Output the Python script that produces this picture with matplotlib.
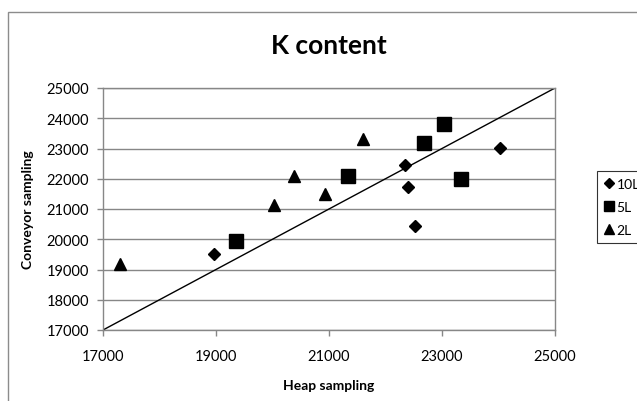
#!/usr/bin/env python3
"""K content: conveyor sampling vs heap sampling for 10L, 5L and 2L samples."""

import matplotlib
matplotlib.use("Agg")
import matplotlib.pyplot as plt
from matplotlib.patches import Rectangle

# Heap sampling (x) and conveyor sampling (y) per sample size
heap_10l = [18970, 22340, 22400, 22520, 24020]
conv_10l = [19510, 22460, 21720, 20450, 23010]

heap_5l = [19360, 21330, 22690, 23040, 23340]
conv_5l = [19930, 22090, 23190, 23800, 22000]

heap_2l = [17300, 20030, 20380, 20930, 21610]
conv_2l = [19180, 21120, 22080, 21500, 23320]

# 1:1 reference line
line_ends = [17000, 25000]

axis_ticks = [17000, 19000, 21000, 23000, 25000]
y_ticks = [17000, 18000, 19000, 20000, 21000, 22000, 23000, 24000, 25000]

plt.rcParams['font.family'] = ['Lato', 'DejaVu Sans']

grey = '#878787'

fig = plt.figure(figsize=(6.37, 4.02), dpi=100)
ax = fig.add_axes([103 / 637, 1 - 331 / 402, 452 / 637, 242 / 402])

ax.plot(line_ends, line_ends, color='black', lw=1.0, zorder=2)

ax.plot(heap_10l, conv_10l, linestyle='none', marker='D', ms=6.0,
        color='black', label='10L', zorder=3)
ax.plot(heap_5l, conv_5l, linestyle='none', marker='s', ms=9.5,
        color='black', label='5L', zorder=3)
ax.plot(heap_2l, conv_2l, linestyle='none', marker='^', ms=9.0,
        color='black', label='2L', zorder=3)

ax.set_xlim(17000, 25000)
ax.set_ylim(17000, 25000)
ax.set_xticks(axis_ticks)
ax.set_yticks(y_ticks)
ax.yaxis.grid(True, color=grey, lw=1.0)
ax.set_axisbelow(True)

for side in ax.spines.values():
    side.set_color(grey)
    side.set_linewidth(1.0)

ax.tick_params(axis='both', direction='out', length=4, width=1, color=grey,
               labelsize=10.5, labelcolor='black')
ax.tick_params(axis='x', pad=10)
ax.tick_params(axis='y', pad=6)

ax.set_title('K content', fontsize=19, fontweight='bold', pad=25)
ax.set_xlabel('Heap sampling', fontsize=10, fontweight='bold', labelpad=11)
ax.set_ylabel('Conveyor sampling', fontsize=10, fontweight='bold', labelpad=9)

leg = fig.legend(loc='upper left', bbox_to_anchor=(597 / 637, 1 - 172 / 402),
                 bbox_transform=fig.transFigure, fontsize=10, frameon=True,
                 fancybox=False, edgecolor='black', handlelength=0.7,
                 handletextpad=0.2, borderpad=0.5, labelspacing=0.8,
                 borderaxespad=0)
leg.get_frame().set_linewidth(0.8)
for h in leg.legend_handles:
    h.set_markersize(h.get_markersize() * 0.8)

# outer chart border, runs off the right and bottom edge
fig.add_artist(Rectangle((8 / 637, -0.2), 1.5, 1.2 - 13 / 402,
                         transform=fig.transFigure, fill=False,
                         edgecolor='#8c8c8c', lw=1.0))

fig.savefig('out.png', dpi=100)
